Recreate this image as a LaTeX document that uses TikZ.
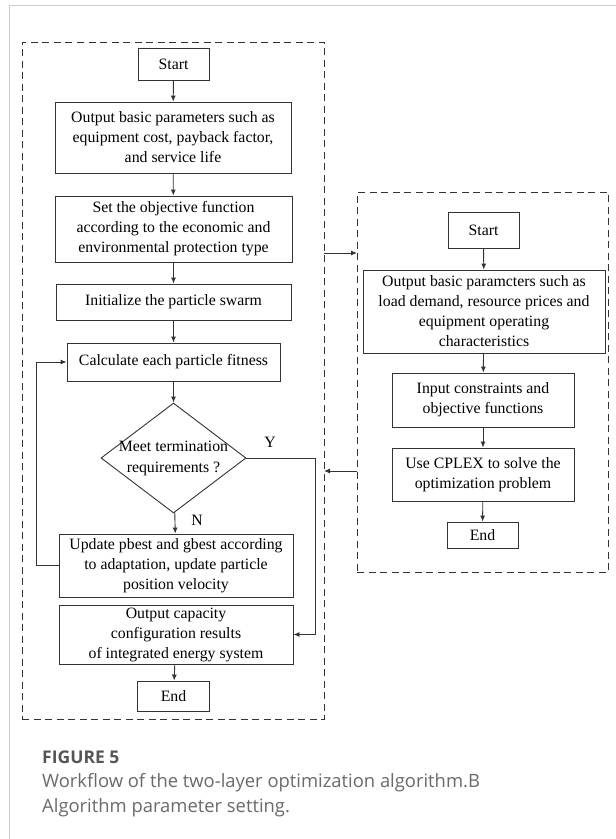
\documentclass[tikz,border=0pt]{standalone}
\usepackage{fontspec}
\setmainfont{Liberation Serif}
\newfontfamily\capfont{Open Sans}
\usetikzlibrary{arrows.meta,shapes.geometric}
\definecolor{ln}{HTML}{333333}
\definecolor{frm}{HTML}{CCCCCC}
\definecolor{capA}{HTML}{555555}
\definecolor{capB}{HTML}{6A6A6A}
\tikzset{
  box/.style={draw=ln, line width=0.9pt, inner sep=0pt, align=center,
    font=\fontsize{15.8}{20}\selectfont},
  dia/.style={draw=ln, line width=0.9pt, diamond, inner sep=0pt,
    minimum width=145pt, minimum height=110pt},
  dtext/.style={inner sep=0pt, align=center, font=\fontsize{15.8}{21}\selectfont},
  dashbox/.style={draw=ln, line width=0.9pt, dash pattern=on 7pt off 4.5pt, inner sep=0pt},
  arr/.style={draw=ln, line width=0.9pt, -{Latex[length=6pt,width=5pt]}},
  lab/.style={font=\fontsize{15.8}{18}\selectfont, inner sep=0pt},
  capline/.style={anchor=base west, inner sep=0pt, text=capB, font=\capfont\fontsize{18.4}{22}\selectfont},
}
\begin{document}
\begin{tikzpicture}[x=1pt,y=-1pt]
\useasboundingbox (0,0) rectangle (616,839);
\fill[white] (0,0) rectangle (616,839);
% outer frame
\draw[frm, line width=1pt] (9,839) -- (9,5) -- (616,5);
% dashed containers
\node[dashbox, minimum width=302pt, minimum height=677pt] (L) at (173,380.5) {};
\node[dashbox, minimum width=251pt, minimum height=380pt] (R) at (482.5,382) {};
% left column
\node[box, minimum width=71pt, minimum height=32pt] (s1) at (173.5,64) {Start};
\node[box, minimum width=236pt, minimum height=71pt] (o1) at (173,137.5) {Output basic parameters such as\\equipment cost, payback factor,\\and service life};
\node[box, minimum width=237pt, minimum height=66pt] (obj) at (173.5,229) {Set the objective function\\according to the economic and\\environmental protection type};
\node[box, minimum width=235pt, minimum height=36pt] (ini) at (173.5,302) {Initialize the particle swarm};
\node[box, minimum width=213pt, minimum height=38pt] (calc) at (173.5,362) {Calculate each particle fitness};
\node[dia] (dec) at (173.5,458) {};
\node[dtext] (dect) at (dec.center) {Meet termination\\requirements ?};
\node[box, minimum width=234pt, minimum height=63pt] (upd) at (176,565.5) {Update pbest and gbest according\\to adaptation, update particle\\position velocity};
\node[box, minimum width=234pt, minimum height=59pt] (outc) at (176,634.5) {Output capacity\\configuration results\\of integrated energy system};
\node[box, minimum width=72pt, minimum height=30pt] (e1) at (173.5,696) {End};
\node[lab] (Y) at (270,442) {Y};
\node[lab] (N) at (197,520) {N};
% right column
\node[box, minimum width=71pt, minimum height=36pt] (s2) at (483.5,230) {Start};
\node[box, minimum width=242pt, minimum height=83pt] (o2) at (484,311.5) {Output basic paramcters such as\\load demand, resource prices and\\equipment operating\\characteristics};
\node[box, minimum width=182pt, minimum height=54pt] (inp) at (483,400) {Input constraints and\\objective functions};
\node[box, minimum width=182pt, minimum height=53pt] (cp) at (483,474.5) {Use CPLEX to solve the\\optimization problem};
\node[box, minimum width=71pt, minimum height=26pt] (e2) at (482.5,535) {End};
% connectors left
\draw[arr] (s1) -- (o1);
\draw[arr] (o1) -- (obj);
\draw[arr] (obj) -- (ini);
\draw[arr] (ini) -- (calc);
\draw[arr] (calc) -- (dec);
\draw[arr] (dec) -- (upd);
\draw[arr] (outc) -- (e1);
\draw[arr] (dec.east) -- (315,458) |- (outc.east);
\draw[arr] (upd.west) -- (36,565.5) |- (calc.west);
% connectors right
\draw[arr] (s2) -- (o2);
\draw[arr] (o2) -- (inp);
\draw[arr] (inp) -- (cp);
\draw[arr] (cp) -- (e2);
% between containers
\coordinate (lr1) at (324,253);
\coordinate (lr2) at (357,253);
\coordinate (rl1) at (357,471);
\coordinate (rl2) at (324,471);
\draw[arr] (lr1) -- (lr2);
\draw[arr] (rl1) -- (rl2);
% caption
\node[anchor=base west, inner sep=0pt, text=capA, font=\capfont\bfseries\fontsize{17.5}{20}\selectfont] (cap1) at (42,763) {FIGURE 5};
\node[capline] (cap2) at (42,787) {Workflow of the two-layer optimization algorithm.B};
\node[capline] (cap3) at (42,812) {Algorithm parameter setting.};
\end{tikzpicture}
\end{document}
